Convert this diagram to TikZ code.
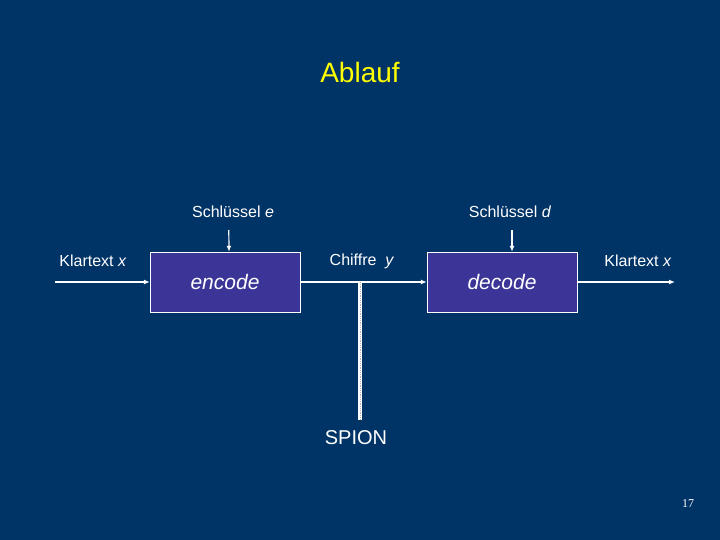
\documentclass[tikz,border=0pt]{standalone}
\usepackage{fontspec}
\setmainfont{Liberation Sans}
\newfontfamily\pagefont{Liberation Serif}
\usetikzlibrary{arrows.meta}
\definecolor{slidebg}{RGB}{0,51,102}
\definecolor{boxfill}{RGB}{58,53,150}
\definecolor{titleyellow}{RGB}{255,255,0}
\tikzset{
  codebox/.style={draw=white, fill=boxfill, minimum width=150pt, minimum height=60pt, inner sep=0pt, text=white, font=\fontsize{21}{24}\selectfont\itshape},
  lbl/.style={text=white, font=\fontsize{16}{19}\selectfont, inner sep=0pt},
  flow/.style={draw=white, line width=1.2pt, -{Latex[length=6pt,width=5pt]}}
}
\begin{document}
\begin{tikzpicture}[x=1pt, y=-1pt]
  \fill[slidebg] (0,0) rectangle (720,540);
  \useasboundingbox (0,0) rectangle (720,540);
  \node[text=titleyellow, font=\fontsize{28}{32}\selectfont] (title) at (360,72) {Ablauf};
  % boxes
  \node[codebox] (enc) at (225,282) {encode};
  \node[codebox] (dec) at (502,282) {decode};
  % labels
  \node[lbl] (ptin) at (93,261) {Klartext \textit{x}};
  \node[lbl] (keye) at (233,212) {Schlüssel \textit{e}};
  \node[lbl] (keyd) at (510,212) {Schlüssel \textit{d}};
  \node[lbl] (ciph) at (362,261) {Chiffre~~\textit{y}};
  \node[lbl] (ptout) at (638,261) {Klartext \textit{x}};
  \node[lbl, font=\fontsize{20}{24}\selectfont] (spy) at (356,438) {SPION};
  \node[text=white, font=\pagefont\fontsize{12}{14}\selectfont] (page) at (688,504) {17};
  % connectors
  \coordinate (inL) at (55,282);
  \coordinate (outR) at (675,282);
  \coordinate (tap) at (360,282);
  \coordinate (spyend) at (360,420);
  \draw[flow] (inL) -- (enc.west);
  \draw[flow] (enc.west |- 0,230) ++(79,0) -- (enc.north -| 229,0);
  \draw[flow] (512,230) -- (dec.north -| 512,0);
  \draw[flow] (enc.east) -- (dec.west);
  \draw[flow] (dec.east) -- (outR);
  \draw[white, line width=4pt] (tap) -- (spyend);
  \draw[gray!60, line width=0.8pt, densely dotted] (tap) -- (spyend);
\end{tikzpicture}
\end{document}
